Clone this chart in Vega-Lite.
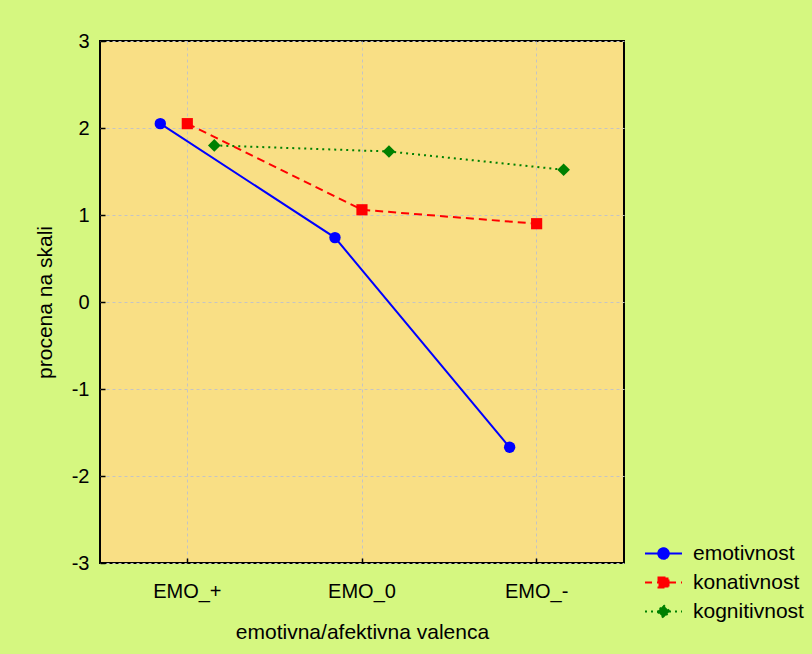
{
  "$schema": "https://vega.github.io/schema/vega-lite/v6.json",
  "width": 524,
  "height": 522,
  "autosize": {"type": "none"},
  "padding": {"left": 100, "top": 41, "right": 188, "bottom": 91},
  "background": "#d5f780",
  "config": {
    "view": {"fill": "#f9df85", "stroke": "#000000", "strokeWidth": 2},
    "font": "Liberation Sans",
    "axis": {
      "labelFont": "Liberation Sans",
      "titleFont": "Liberation Sans",
      "labelColor": "#000000",
      "titleColor": "#000000",
      "titleFontWeight": "normal",
      "grid": true,
      "gridColor": "#c4c4c4",
      "gridDash": [3, 3],
      "gridWidth": 1,
      "gridOpacity": 1,
      "domain": false,
      "tickColor": "#000000",
      "tickWidth": 1.5
    },
    "legend": {"labelFont": "Liberation Sans", "labelColor": "#000000"}
  },
  "data": {
    "values": [
      {"valenca": "EMO_+", "dimenzija": "emotivnost", "procena": 2.05},
      {"valenca": "EMO_+", "dimenzija": "konativnost", "procena": 2.05},
      {"valenca": "EMO_+", "dimenzija": "kognitivnost", "procena": 1.80},
      {"valenca": "EMO_0", "dimenzija": "emotivnost", "procena": 0.74},
      {"valenca": "EMO_0", "dimenzija": "konativnost", "procena": 1.06},
      {"valenca": "EMO_0", "dimenzija": "kognitivnost", "procena": 1.73},
      {"valenca": "EMO_-", "dimenzija": "emotivnost", "procena": -1.67},
      {"valenca": "EMO_-", "dimenzija": "konativnost", "procena": 0.90},
      {"valenca": "EMO_-", "dimenzija": "kognitivnost", "procena": 1.52}
    ]
  },
  "encoding": {
    "x": {
      "field": "valenca",
      "type": "nominal",
      "sort": ["EMO_+", "EMO_0", "EMO_-"],
      "scale": {"type": "band", "paddingInner": 0, "paddingOuter": 0},
      "axis": {
        "title": "emotivna/afektivna valenca",
        "grid": true,
        "labelAngle": 0,
        "labelFontSize": 20,
        "titleFontSize": 21,
        "tickSize": -5,
        "labelPadding": 23,
        "titlePadding": 20
      }
    },
    "xOffset": {
      "field": "dimenzija",
      "type": "nominal",
      "sort": ["emotivnost", "konativnost", "kognitivnost"],
      "scale": {"type": "point", "padding": 0, "range": [60.3, 114.3]}
    },
    "y": {
      "field": "procena",
      "type": "quantitative",
      "scale": {"domain": [-3, 3], "nice": false, "zero": false},
      "axis": {
        "values": [-3, -2, -1, 0, 1, 2, 3],
        "labelExpr": "'' + datum.value",
        "title": "procena na skali",
        "labelFontSize": 20,
        "titleFontSize": 21,
        "tickSize": -5,
        "labelPadding": 16,
        "titlePadding": 16
      }
    },
    "color": {
      "field": "dimenzija",
      "type": "nominal",
      "scale": {
        "domain": ["emotivnost", "konativnost", "kognitivnost"],
        "range": ["#0000ff", "#ff0000", "#008000"]
      },
      "legend": {
        "title": null,
        "orient": "none",
        "legendX": 553,
        "legendY": 502,
        "padding": 0,
        "labelFontSize": 21,
        "symbolSize": 100,
        "symbolStrokeWidth": 2,
        "labelOffset": 19,
        "rowPadding": 7,
        "symbolOpacity": 1,
        "encode": {
          "symbols": {
            "update": {
              "shape": {"signal": "datum.value === 'emotivnost' ? 'M-3.7,0H3.7M-1.05,0A1.05,1.05,0,1,0,1.05,0A1.05,1.05,0,1,0,-1.05,0Z' : datum.value === 'konativnost' ? 'M-3.7,0H3.7M-1,-1H1V1H-1Z' : 'M-3.7,0H3.7M0,-1.25L1.25,0L0,1.25L-1.25,0Z'"},
              "fill": {"signal": "datum.value === 'emotivnost' ? '#0000ff' : datum.value === 'konativnost' ? '#ff0000' : '#008000'"},
              "stroke": {"signal": "datum.value === 'emotivnost' ? '#0000ff' : datum.value === 'konativnost' ? '#ff0000' : '#008000'"},
              "strokeDash": {"signal": "datum.value === 'konativnost' ? [7,5] : datum.value === 'kognitivnost' ? [2,4] : [1,0]"},
              "strokeWidth": {"value": 2},
              "opacity": {"value": 1}
            }
          }
        }
      }
    }
  },
  "layer": [
    {
      "transform": [{"filter": "datum.dimenzija === 'emotivnost'"}],
      "mark": {"type": "line", "strokeWidth": 2},
      "encoding": {"order": {"value": null}}
    },
    {
      "transform": [{"filter": "datum.dimenzija === 'konativnost'"}],
      "mark": {"type": "line", "strokeWidth": 2, "strokeDash": [8, 5]},
      "encoding": {"order": {"value": null}}
    },
    {
      "transform": [{"filter": "datum.dimenzija === 'kognitivnost'"}],
      "mark": {"type": "line", "strokeWidth": 2, "strokeDash": [2, 4]},
      "encoding": {"order": {"value": null}}
    },
    {
      "transform": [{"filter": "datum.dimenzija === 'emotivnost'"}],
      "mark": {"type": "point", "shape": "circle", "filled": true, "opacity": 1, "size": 130}
    },
    {
      "transform": [{"filter": "datum.dimenzija === 'konativnost'"}],
      "mark": {"type": "point", "shape": "square", "filled": true, "opacity": 1, "size": 125}
    },
    {
      "transform": [{"filter": "datum.dimenzija === 'kognitivnost'"}],
      "mark": {"type": "point", "shape": "diamond", "filled": true, "opacity": 1, "size": 160}
    }
  ]
}
